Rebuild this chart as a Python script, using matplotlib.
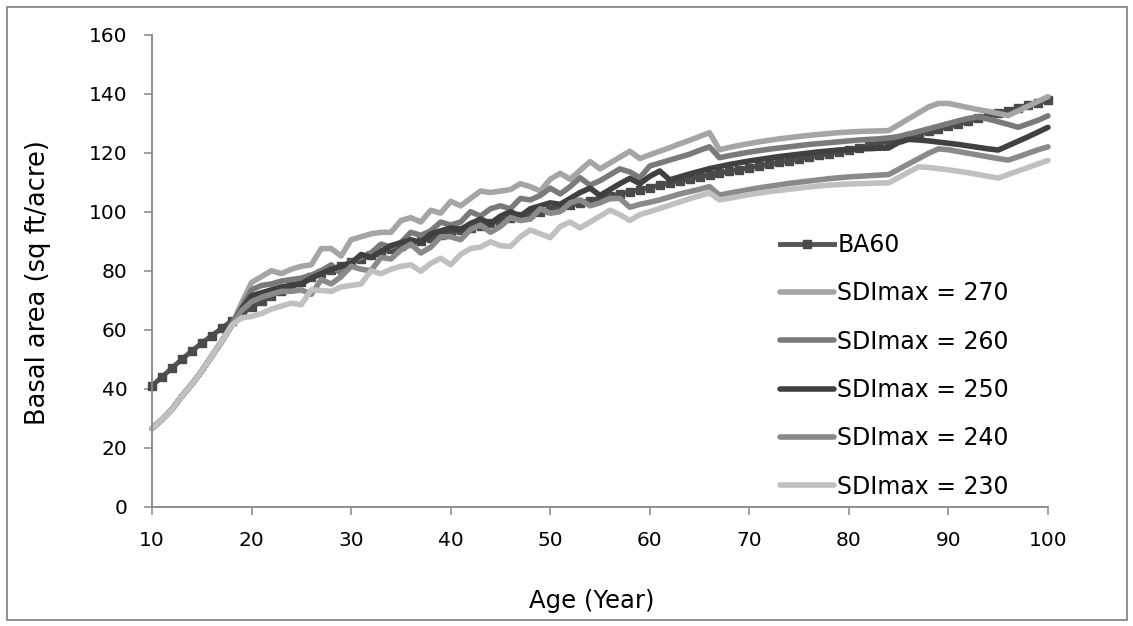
import matplotlib
matplotlib.use("Agg")
import matplotlib.pyplot as plt
from matplotlib.patches import Rectangle

plt.rcParams['font.family'] = ['DejaVu Sans']

ages = list(range(10, 101))

ba60 = [41.0, 44.0, 47.0, 50.0, 52.8, 55.5, 58.0, 60.5, 63.0, 65.4,
        67.6, 69.6, 71.5, 73.2, 74.8, 76.3, 77.7, 79.1, 80.4, 81.7,
        82.9, 84.1, 85.2, 86.3, 87.3, 88.3, 89.3, 90.2, 91.1, 92.0,
        92.8, 93.7, 94.5, 95.3, 96.1, 96.9, 97.7, 98.5, 99.2, 100.0,
        100.7, 101.5, 102.2, 103.0, 103.7, 104.5, 105.2, 106.0, 106.7, 107.5,
        108.2, 109.0, 109.7, 110.4, 111.1, 111.8, 112.5, 113.1, 113.7, 114.3,
        114.9, 115.5, 116.1, 116.7, 117.3, 117.9, 118.5, 119.1, 119.7, 120.3,
        120.9, 121.6, 122.4, 123.2, 124.0, 124.8, 125.6, 126.4, 127.2, 128.0,
        128.9, 129.8, 130.7, 131.6, 132.5, 133.4, 134.3, 135.2, 136.1, 137.0,
        137.9]

sdi270 = [26.5, 29.5, 33.0, 37.5, 41.5, 46.0, 51.0, 56.0, 61.5, 69.0,
          76.0, 78.0, 80.0, 79.0, 80.5, 81.5, 82.0, 87.5, 87.5, 85.0,
          90.5, 91.5, 92.5, 93.0, 93.0, 97.0, 98.0, 96.5, 100.5, 99.5,
          103.5, 102.0, 104.5, 107.0, 106.5, 107.0, 107.5, 109.5, 108.5, 107.0,
          111.0, 113.0, 111.0, 114.0, 117.0, 114.5, 116.5, 118.5, 120.5, 118.0,
          119.3, 120.5, 121.7, 123.0, 124.2, 125.5, 126.8, 121.0, 121.8, 122.5,
          123.1, 123.7, 124.2, 124.7, 125.1, 125.5, 125.9, 126.2, 126.5, 126.8,
          127.0, 127.2, 127.3, 127.4, 127.5, 129.5, 131.5, 133.5, 135.5, 136.7,
          136.7, 136.0, 135.3, 134.6, 134.0, 133.3, 132.6, 134.2, 135.8, 137.4,
          139.0]

sdi260 = [26.5, 29.5, 33.0, 37.5, 41.5, 46.0, 51.0, 56.0, 61.5, 67.5,
          73.5, 75.0, 75.5, 76.5, 77.0, 77.5, 78.5, 80.0, 82.0, 79.0,
          83.0, 84.5, 86.0, 89.0, 88.0, 89.5, 93.0, 92.0, 93.5, 96.5,
          95.5, 96.5, 100.0, 98.5, 101.0, 102.0, 101.0, 104.5, 104.0, 105.5,
          108.0, 106.0, 108.5, 111.5, 109.0, 110.5, 112.5, 114.5, 113.5, 111.5,
          115.5, 116.5, 117.5, 118.5, 119.5, 120.8, 122.0, 118.3, 119.0, 119.6,
          120.2, 120.7, 121.2, 121.6, 122.0, 122.4, 122.8, 123.1, 123.4, 123.7,
          124.0, 124.3, 124.5, 124.7, 125.0, 125.5, 126.3, 127.2, 128.1, 129.0,
          129.9, 130.8, 131.6, 132.2, 131.4, 130.5, 129.6, 128.6, 129.8, 131.0,
          132.5]

sdi250 = [26.5, 29.5, 33.0, 37.5, 41.5, 46.0, 51.0, 56.0, 61.5, 67.0,
          71.5, 72.5, 73.5, 74.5, 75.0, 75.5, 77.5, 79.0, 80.5, 81.5,
          82.5, 85.5, 84.5, 86.5, 88.5, 89.5, 90.5, 89.5, 92.5, 93.5,
          94.5, 94.0, 96.0, 97.5, 96.0, 98.5, 100.0, 98.5, 101.0, 102.0,
          103.0, 102.5, 104.5, 106.5, 108.0, 105.5, 107.5, 109.5, 111.3, 109.5,
          112.0, 113.8, 110.8, 111.8, 112.8, 113.7, 114.6, 115.3, 116.0, 116.6,
          117.2, 117.7, 118.2, 118.7, 119.1, 119.5, 119.9, 120.3, 120.6, 120.9,
          121.1, 121.3, 121.4, 121.5, 121.6, 123.5, 124.5, 124.3, 124.0, 123.6,
          123.2, 122.8, 122.3, 121.8, 121.3, 120.9, 122.4, 123.9, 125.4, 127.0,
          128.6]

sdi240 = [26.5, 29.5, 33.0, 37.5, 41.5, 46.0, 51.0, 56.0, 61.5, 66.5,
          69.5, 71.0, 72.0, 73.0, 73.0, 73.5, 72.0, 77.0, 75.5, 78.0,
          81.5, 80.5, 80.0, 84.5, 84.0, 87.0, 89.0, 86.0, 88.0, 91.5,
          91.5, 90.5, 94.0, 95.5, 93.0, 95.0, 98.0, 97.0, 97.5, 101.0,
          99.5, 100.0, 103.0, 104.0, 102.0, 103.0, 104.5, 104.5, 101.5, 102.5,
          103.2, 104.0, 105.0, 106.0, 106.8, 107.6, 108.5, 105.6, 106.3, 106.9,
          107.5, 108.1, 108.6, 109.1, 109.6, 110.0, 110.4, 110.8, 111.2, 111.5,
          111.8, 112.0, 112.2, 112.4, 112.6, 114.4, 116.2, 118.0, 119.8, 121.3,
          121.0, 120.4, 119.8, 119.2, 118.6, 118.0, 117.5, 118.6, 119.8, 121.0,
          122.0]

sdi230 = [26.5, 29.5, 33.0, 37.5, 41.5, 46.0, 51.0, 56.0, 61.5, 64.0,
          64.5, 65.5, 67.0, 68.0, 69.0, 68.5, 73.5, 73.3, 73.0, 74.5,
          75.0, 75.5, 80.0, 79.0, 80.5, 81.5, 82.0, 79.8, 82.5, 84.2,
          82.0, 85.5, 87.5, 88.0, 89.8, 88.5, 88.2, 91.5, 93.8, 92.5,
          91.2, 95.0, 96.5, 94.5, 96.5, 98.5, 100.5, 99.0, 97.0, 99.0,
          100.0, 101.1, 102.2, 103.3, 104.4, 105.4, 106.4, 104.0, 104.6, 105.2,
          105.8, 106.3, 106.8, 107.2, 107.6, 108.0, 108.4, 108.7, 109.0, 109.2,
          109.4, 109.5, 109.6, 109.7, 109.8, 111.6, 113.4, 115.2, 115.0, 114.6,
          114.2, 113.7, 113.2, 112.6, 112.0, 111.4, 112.6, 113.8, 115.0, 116.2,
          117.4]

series_labels = ["SDImax = 270", "SDImax = 260", "SDImax = 250",
                 "SDImax = 240", "SDImax = 230"]
series_values = [sdi270, sdi260, sdi250, sdi240, sdi230]
series_colors = ["#A5A5A5", "#7A7A7A", "#404040", "#8A8A8A", "#C0C0C0"]

x_ticks = list(range(10, 101, 10))
y_ticks = list(range(0, 161, 20))

W, H = 1133, 626
fig = plt.figure(figsize=(W / 100, H / 100), dpi=100)
ax = fig.add_axes([152 / W, 1 - 506.7 / H, (1048 - 152) / W, (506.7 - 34.7) / H])

ax.plot(ages, ba60, color="#555555", lw=3.5, marker="s", markersize=6,
        markerfacecolor="#4A4A4A", markeredgecolor="#4A4A4A",
        label="BA60", clip_on=False, solid_joinstyle="round")
for vals, lab, col in zip(series_values, series_labels, series_colors):
    ax.plot(ages, vals, color=col, lw=4.0, label=lab, clip_on=False,
            solid_joinstyle="round", solid_capstyle="round")

ax.set_xlim(10, 100)
ax.set_ylim(0, 160)
ax.set_xticks(x_ticks)
ax.set_yticks(y_ticks)
for s in ["top", "right"]:
    ax.spines[s].set_visible(False)
for s in ["left", "bottom"]:
    ax.spines[s].set_color("#868686")
    ax.spines[s].set_linewidth(1.3)
ax.tick_params(axis="both", colors="#868686", length=5.5, width=1.1,
               direction="out", labelsize=14.5, labelcolor="black")
ax.tick_params(axis="y", pad=12)
ax.tick_params(axis="x", pad=12)

fig.text(38 / W, 1 - 283 / H, "Basal area (sq ft/acre)", rotation=90,
         ha="center", va="center", fontsize=18.5)
fig.text(592 / W, 1 - 601 / H, "Age (Year)", ha="center", va="center",
         fontsize=17.5)

leg = ax.legend(loc="upper left", bbox_to_anchor=(780 / W, 1 - 233 / H),
                bbox_transform=fig.transFigure, frameon=False, fontsize=17,
                handlelength=2.3, handletextpad=0.12, labelspacing=1.03,
                borderpad=0, borderaxespad=0)

fig.add_artist(Rectangle((6.5 / W, 1 - 620 / H), (1127 - 6.5) / W, (620 - 7) / H,
                         transform=fig.transFigure, fill=False,
                         edgecolor="#868686", lw=1.3))

fig.savefig("out.png", dpi=100)
